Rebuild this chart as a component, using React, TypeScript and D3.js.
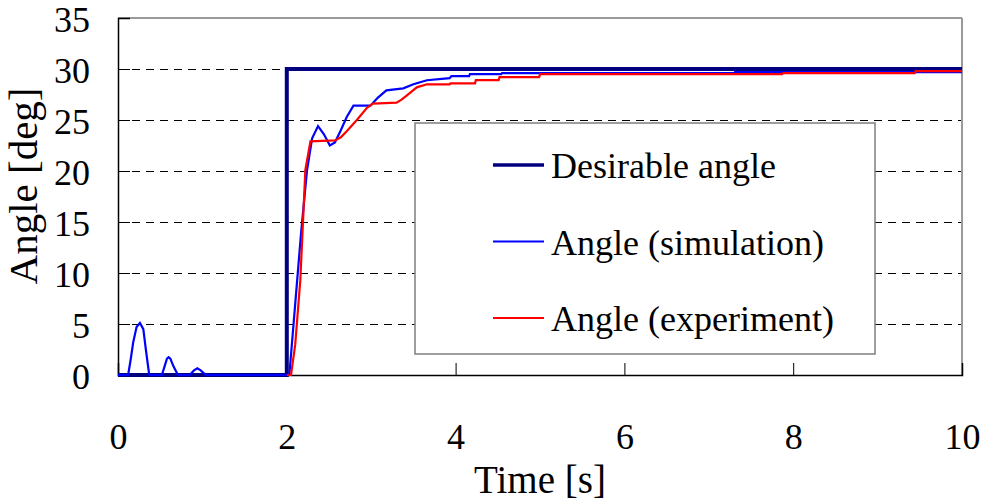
import React, { useEffect, useRef } from "react";
import * as d3 from "d3";

const WIDTH = 984;
const HEIGHT = 504;

// Axis settings
const xTicks = [0, 2, 4, 6, 8, 10];
const yTicks = [0, 5, 10, 15, 20, 25, 30, 35];

// Desirable angle (step input)
const desiredTime = [0, 2, 2, 10];
const desiredAngle = [0, 0, 30, 30];

// Simulated angle
const simTime = [
  0, 0.12, 0.15, 0.18, 0.22, 0.26, 0.3, 0.33, 0.37, 0.52, 0.55, 0.58, 0.6, 0.62, 0.66, 0.71,
  0.85, 0.9, 0.94, 0.98, 1.04,
  2.03, 2.1, 2.17, 2.24, 2.3, 2.37, 2.44, 2.51, 2.57, 2.64, 2.71, 2.79, 2.99,
  3.08, 3.18, 3.38, 3.5, 3.66, 3.93, 3.95, 4.16, 4.17, 4.54, 4.55, 7.3, 7.31, 10,
];
const simAngle = [
  0, 0, 1.5, 3.2, 4.7, 5.1, 4.5, 2.5, 0, 0, 0.8, 1.6, 1.75, 1.6, 0.8, 0,
  0, 0.45, 0.65, 0.45, 0,
  0, 7, 14, 20.1, 23.2, 24.4, 23.6, 22.5, 22.8, 24, 25.3, 26.4, 26.4,
  27.2, 27.9, 28.1, 28.5, 28.9, 29.1, 29.3, 29.3, 29.5, 29.5, 29.6, 29.6, 29.7, 29.7,
];

// Measured angle
const expTime = [
  2.0, 2.05, 2.1, 2.16, 2.22, 2.28, 2.57, 2.64, 2.71, 2.83, 2.95, 3.02, 3.3, 3.36,
  3.42, 3.54, 3.66, 3.93, 3.94, 4.23, 4.24, 4.51, 4.52, 4.99, 5.0, 7.87, 7.88,
  9.44, 9.45, 10,
];
const expAngle = [
  0, 0, 3, 9.3, 20.1, 22.9, 23.0, 23.3, 23.9, 25.0, 26.2, 26.6, 26.7, 27.0,
  27.4, 28.2, 28.5, 28.5, 28.6, 28.6, 28.9, 28.9, 29.2, 29.2, 29.5, 29.5, 29.6,
  29.6, 29.8, 29.8,
];

const legendLabels = ["Desirable angle", "Angle (simulation)", "Angle (experiment)"];
const seriesColors = ["#000080", "#0000ff", "#ff0000"];
const seriesWidths = [4, 2.2, 2.2];

const FONT = "'Liberation Serif', 'Times New Roman', serif";

export default function App() {
  const ref = useRef<SVGSVGElement>(null);

  useEffect(() => {
    const svg = d3.select(ref.current);
    svg.selectAll("*").remove();

    const left = 118, right = 962, top = 18, bottom = 375;
    const x = d3.scaleLinear().domain([0, 10]).range([left, right]);
    const y = d3.scaleLinear().domain([0, 35]).range([bottom, top]);

    // gridlines
    svg.append("g")
      .selectAll("line")
      .data(yTicks.filter((v) => v > 0 && v < 35))
      .join("line")
      .attr("x1", left)
      .attr("x2", right)
      .attr("y1", (d) => Math.round(y(d)) + 0.5)
      .attr("y2", (d) => Math.round(y(d)) + 0.5)
      .attr("stroke", "#000")
      .attr("stroke-width", 1)
      .attr("shape-rendering", "crispEdges")
      .attr("stroke-dasharray", "8,6");

    // plot frame: top and right in grey
    svg.append("line").attr("x1", left).attr("x2", right).attr("y1", top).attr("y2", top)
      .attr("stroke", "#9a9a9a").attr("stroke-width", 2);
    svg.append("line").attr("x1", right).attr("x2", right).attr("y1", top).attr("y2", bottom)
      .attr("stroke", "#9a9a9a").attr("stroke-width", 2);

    // axes
    const xAxis = d3.axisBottom(x).tickValues(xTicks).tickSize(-12)
      .tickFormat((d) => String(d));
    const gx = svg.append("g").attr("transform", `translate(0,${bottom})`).call(xAxis);
    gx.select(".domain").attr("stroke", "#000").attr("stroke-width", 1.5);
    gx.selectAll(".tick line").attr("stroke", "#000").attr("stroke-width", 1);
    gx.selectAll(".tick text")
      .attr("font-family", FONT).attr("font-size", 36).attr("fill", "#000")
      .attr("dy", "0").attr("y", 74);

    const yAxis = d3.axisLeft(y).tickValues(yTicks).tickSize(-12).tickPadding(28)
      .tickFormat((d) => String(d));
    const gy = svg.append("g").attr("transform", `translate(${left},0)`).call(yAxis);
    gy.select(".domain").attr("stroke", "#000").attr("stroke-width", 1.5);
    gy.selectAll(".tick line").attr("stroke", "#000").attr("stroke-width", 1);
    gy.selectAll(".tick text")
      .attr("font-family", FONT).attr("font-size", 36).attr("fill", "#000")
      .attr("dy", "0.38em");

    // series
    const line = d3.line<[number, number]>().x((d) => x(d[0])).y((d) => y(d[1]));
    const zip = (t: number[], v: number[]) => t.map((ti, i) => [ti, v[i]] as [number, number]);
    const series = [
      { data: zip(desiredTime, desiredAngle), i: 0 },
      { data: zip(simTime, simAngle), i: 1 },
      { data: zip(expTime, expAngle), i: 2 },
    ];
    series.forEach((s) => {
      svg.append("path")
        .attr("d", line(s.data))
        .attr("fill", "none")
        .attr("stroke", seriesColors[s.i])
        .attr("stroke-width", seriesWidths[s.i])
        .attr("stroke-linejoin", "miter");
    });

    // legend
    const lg = svg.append("g");
    lg.append("rect")
      .attr("x", 415).attr("y", 123).attr("width", 460).attr("height", 231)
      .attr("fill", "#fff").attr("stroke", "#7f7f7f").attr("stroke-width", 1.5);
    legendLabels.forEach((label, i) => {
      const cy = 165 + i * 76.5;
      lg.append("line")
        .attr("x1", 493).attr("x2", 544).attr("y1", cy).attr("y2", cy)
        .attr("stroke", seriesColors[i]).attr("stroke-width", i === 0 ? 3.5 : 2);
      lg.append("text")
        .attr("x", 551).attr("y", cy + 13)
        .attr("font-family", FONT).attr("font-size", 36).attr("fill", "#000")
        .text(label);
    });

    // axis titles
    svg.append("text")
      .attr("x", 540).attr("y", 493)
      .attr("text-anchor", "middle")
      .attr("font-family", FONT).attr("font-size", 39).attr("fill", "#000")
      .text("Time [s]");
    svg.append("text")
      .attr("transform", "translate(37,186) rotate(-90)")
      .attr("text-anchor", "middle")
      .attr("font-family", FONT).attr("font-size", 41).attr("fill", "#000")
      .text("Angle [deg]");
  }, []);

  return (
    <div style={{ position: "absolute", left: 0, top: 0, width: WIDTH, height: HEIGHT, background: "#fff" }}>
      <svg ref={ref} width={WIDTH} height={HEIGHT} />
    </div>
  );
}
